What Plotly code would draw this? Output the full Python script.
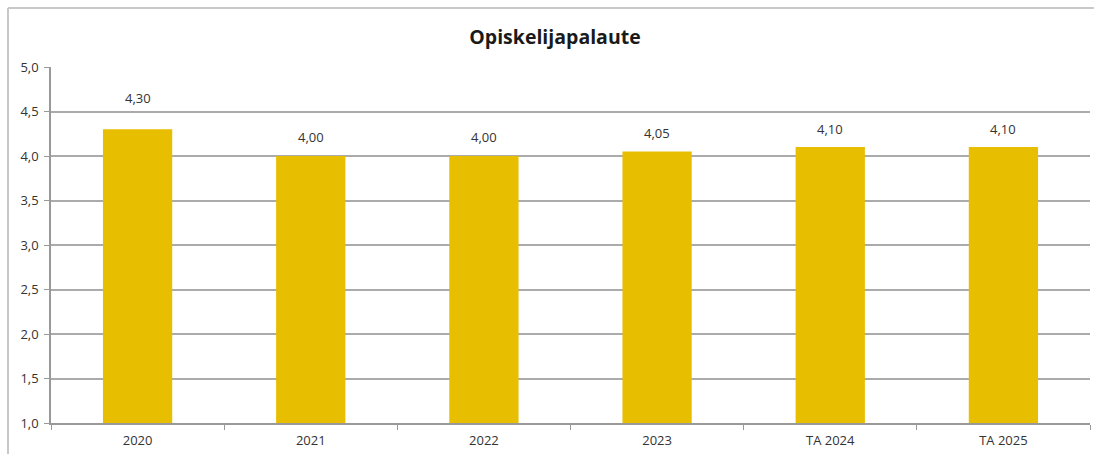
import plotly.graph_objects as go

categories = ["2020", "2021", "2022", "2023", "TA 2024", "TA 2025"]
values = [4.30, 4.00, 4.00, 4.05, 4.10, 4.10]
label_shift = [31, 19, 19, 19, 18, 18]

BAR_COLOR = "#E8BE00"
FONT = "Open Sans"
TXT = "#333333"

fig = go.Figure()
fig.add_trace(go.Bar(
    x=categories, y=values, width=0.4,
    marker=dict(color=BAR_COLOR, line=dict(width=0)),
    hoverinfo="skip",
))

for i, (v, s) in enumerate(zip(values, label_shift)):
    fig.add_annotation(
        x=i, y=v, text=f"{v:.2f}".replace(".", ","),
        showarrow=False, yshift=s, yanchor="middle",
        font=dict(family=FONT, size=13, color=TXT),
    )

L, R, T, B = 51, 4, 67, 31
W, H = 1094, 454
pw, ph = W - L - R, H - T - B
bx = (8 - L) / pw
by = 1 + (T - 8) / ph

fig.add_shape(type="line", xref="paper", yref="paper", x0=bx, x1=bx, y0=-0.2, y1=by,
              line=dict(color="#C8C8C8", width=2))
fig.add_shape(type="line", xref="paper", yref="paper", x0=bx, x1=1.1, y0=by, y1=by,
              line=dict(color="#C8C8C8", width=2))

fig.update_layout(
    width=W, height=H,
    margin=dict(l=L, r=R, t=T, b=B, autoexpand=False),
    paper_bgcolor="white", plot_bgcolor="white",
    separators=", ",
    showlegend=False,
    title=dict(text="<b>Opiskelijapalaute</b>", x=(555 - L) / pw, xanchor="center",
               y=1 - 37 / H, yanchor="middle", xref="paper",
               font=dict(family=FONT, size=19.5, color="#1a1a1a")),
    font=dict(family=FONT, size=13, color=TXT),
    xaxis=dict(
        type="category", range=[-0.5, len(categories) - 0.5],
        showline=True, linecolor="#999999", linewidth=1.5,
        ticks="outside", tickson="boundaries", ticklen=5, tickcolor="#999999",
        showgrid=False, tickfont=dict(size=13), tickangle=0, ticklabelstandoff=5,
    ),
    yaxis=dict(
        range=[1.0, 5.0], dtick=0.5, tickformat=".1f",
        showline=True, linecolor="#999999", linewidth=1.5,
        ticks="outside", ticklen=5, tickcolor="#999999",
        showgrid=True, gridcolor="#ABABAB", gridwidth=1.5,
        zeroline=False, tickfont=dict(size=13), ticklabelstandoff=3,
    ),
)

fig.write_html("out.html", config={"displayModeBar": False},
               post_script="document.body.style.margin='0';document.body.style.overflow='hidden';")
